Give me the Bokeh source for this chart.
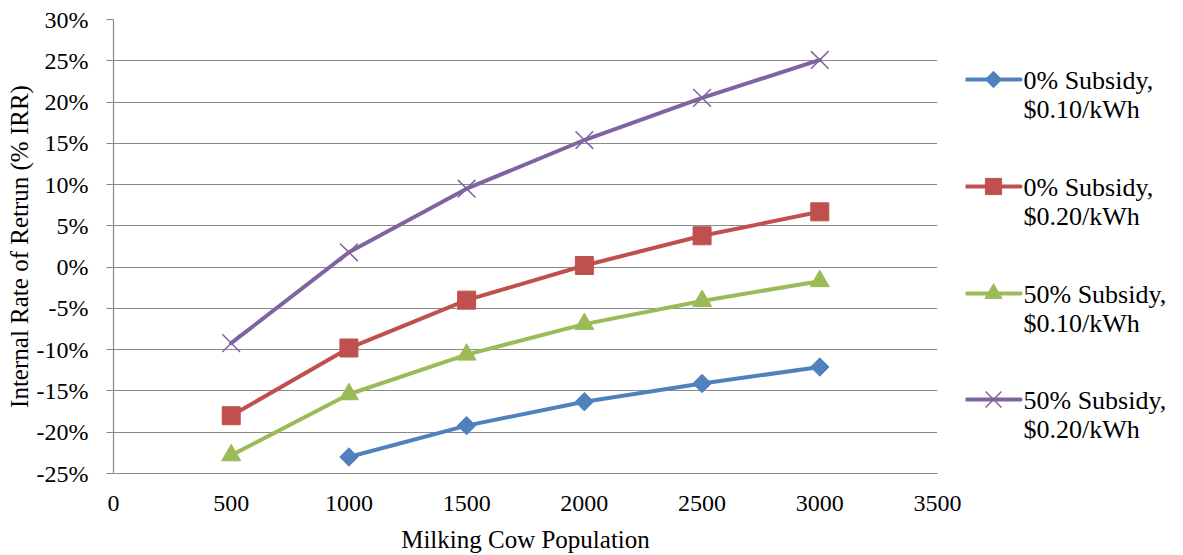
import math
from bokeh.plotting import figure
from bokeh.layouts import row
from bokeh.models import Range1d, FixedTicker, PrintfTickFormatter
from bokeh.core.properties import value
from bokeh.embed import file_html
from bokeh.resources import INLINE

# ---- data ----
cow_population = [500, 1000, 1500, 2000, 2500, 3000]
irr_sub0_010 = [float("nan"), -23.0, -19.2, -16.3, -14.1, -12.1]
irr_sub0_020 = [-18.0, -9.8, -4.0, 0.2, 3.8, 6.7]
irr_sub50_010 = [-22.8, -15.4, -10.6, -6.9, -4.1, -1.7]
irr_sub50_020 = [-9.2, 1.8, 9.5, 15.4, 20.5, 25.1]
series_labels = [["0% Subsidy,", "$0.10/kWh"], ["0% Subsidy,", "$0.20/kWh"],
                 ["50% Subsidy,", "$0.10/kWh"], ["50% Subsidy,", "$0.20/kWh"]]
x_ticks = [0, 500, 1000, 1500, 2000, 2500, 3000, 3500]
y_ticks = [-25, -20, -15, -10, -5, 0, 5, 10, 15, 20, 25, 30]

FONT = "'Liberation Serif', serif"
colors = ["#4F81BD", "#C0504D", "#9BBB59", "#8064A2"]
markers = [("square", 13, math.pi / 4, 0), ("square", 18, 0, 0),
           ("triangle", 19, 0, 0), ("x", 25, 0, 1.5)]
series = [irr_sub0_010, irr_sub0_020, irr_sub50_010, irr_sub50_020]

TOP, BOTTOM = 19, 82

p = figure(width=965, height=555, output_backend="svg", toolbar_location=None,
           x_range=Range1d(0, 3500), y_range=Range1d(-25, 30),
           min_border_left=113, min_border_right=28, min_border_top=TOP, min_border_bottom=BOTTOM)
p.outline_line_color = None
p.background_fill_color = "white"
p.border_fill_color = "white"

p.xaxis.ticker = FixedTicker(ticks=x_ticks)
p.yaxis.ticker = FixedTicker(ticks=y_ticks)
p.yaxis.formatter = PrintfTickFormatter(format="%d%%")
p.xgrid.grid_line_color = None
p.ygrid.grid_line_color = "#8A8A8A"
p.ygrid.grid_line_width = 1.2

for ax in (p.xaxis[0], p.yaxis[0]):
    ax.axis_line_color = "#8A8A8A"
    ax.axis_line_width = 1.2
    ax.major_tick_line_color = "#8A8A8A"
    ax.minor_tick_line_color = None
    ax.major_tick_in = 0
    ax.major_label_text_font = FONT
    ax.major_label_text_font_size = "24px"
    ax.major_label_text_font_style = "normal"
    ax.major_label_text_color = "black"
    ax.axis_label_text_font = FONT
    ax.axis_label_text_font_size = "25px"
    ax.axis_label_text_font_style = "normal"
    ax.axis_label_text_color = "black"

p.xaxis.major_tick_out = 0
p.xaxis.major_label_standoff = 22
p.xaxis.axis_label = "Milking Cow Population"
p.xaxis.axis_label_standoff = 12
p.yaxis.major_tick_out = 7
p.yaxis.major_label_standoff = 18
p.yaxis.axis_label = "Internal Rate of Retrun (% IRR)"
p.yaxis.axis_label_standoff = 1

for ys, c, (mk, sz, ang, lw) in zip(series, colors, markers):
    xs = [x for x, y in zip(cow_population, ys) if not math.isnan(y)]
    yv = [y for y in ys if not math.isnan(y)]
    p.line(xs, yv, line_color=c, line_width=4, line_cap="round", line_join="round")
    if mk == "x":
        p.scatter(xs, yv, marker=mk, size=sz, line_color=c, line_width=lw)
    else:
        p.scatter(xs, yv, marker=mk, size=sz, angle=ang, fill_color=c, line_color=c, line_width=1)

# ---- legend panel (frame is aligned with main frame by the row layout) ----
lg = figure(width=218, height=555, output_backend="svg", toolbar_location=None,
            x_range=Range1d(0, 218), y_range=Range1d(555 - BOTTOM, TOP),
            min_border_left=0, min_border_right=0, min_border_top=TOP, min_border_bottom=BOTTOM)
lg.axis.visible = False
lg.grid.visible = False
lg.outline_line_color = None
lg.background_fill_color = "white"
lg.border_fill_color = "white"

item_y = [79, 186, 293, 399]
for yy, c, (mk, sz, ang, lw), lab in zip(item_y, colors, markers, series_labels):
    lg.line([1, 55], [yy, yy], line_color=c, line_width=4, line_cap="round")
    if mk == "x":
        lg.scatter([28], [yy], marker=mk, size=sz * 0.9, line_color=c, line_width=lw)
    else:
        lg.scatter([28], [yy], marker=mk, size=sz * 0.9, angle=ang, fill_color=c, line_color=c)
    lg.text([58, 58], [yy + 1, yy + 30], text=lab, text_font=value(FONT),
            text_font_size="26px", text_color="black", text_baseline="middle", text_align="left")

layout = row(p, lg)
open("out.html", "w").write(file_html(layout, INLINE))
